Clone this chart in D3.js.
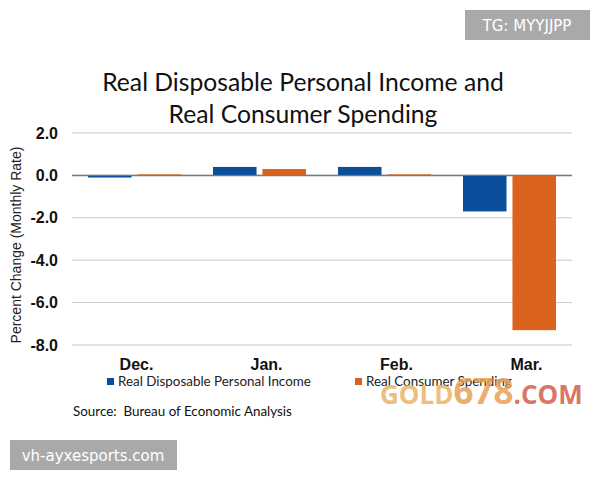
<html>
<head>
<meta charset="utf-8">
<title>Real Disposable Personal Income and Real Consumer Spending</title>
<script src="https://cdn.jsdelivr.net/npm/d3@7"></script>
<style>
  body { margin: 0; background: #fff; }
</style>
</head>
<body>
<script>
// data
var months = ["Dec.", "Jan.", "Feb.", "Mar."];
var seriesNames = ["Real Disposable Personal Income", "Real Consumer Spending"];
var incomeValues = [-0.1, 0.4, 0.4, -1.7];
var spendingValues = [0.05, 0.3, 0.05, -7.3];
var yTicks = [2, 0, -2, -4, -6, -8];
var colors = ["#0b4f9c", "#d9631c"];

var width = 600, height = 480;
var svg = d3.select("body").append("svg")
    .attr("width", width)
    .attr("height", height);

var plotLeft = 72, plotRight = 572, plotTop = 133, plotBottom = 345;

var x = d3.scaleBand().domain(months).range([plotLeft, plotRight]);
var x1 = d3.scaleBand().domain(seriesNames).range([16, 109]).paddingInner(0.12);
var y = d3.scaleLinear().domain([-8, 2]).range([plotBottom, plotTop]);

// title
svg.append("text")
    .attr("x", 303).attr("y", 91)
    .attr("text-anchor", "middle")
    .style("font-family", "Lato, 'Open Sans', sans-serif")
    .style("font-size", "24.7px")
    .attr("fill", "#111")
    .text("Real Disposable Personal Income and");
svg.append("text")
    .attr("x", 303).attr("y", 123)
    .attr("text-anchor", "middle")
    .style("font-family", "Lato, 'Open Sans', sans-serif")
    .style("font-size", "24.7px")
    .attr("fill", "#111")
    .text("Real Consumer Spending");

// grid
svg.append("g").selectAll("line")
    .data(yTicks)
    .enter().append("line")
    .attr("x1", plotLeft).attr("x2", plotRight)
    .attr("y1", d => y(d)).attr("y2", d => y(d))
    .attr("stroke", d => d === 0 ? "#7a7a7a" : "#c8c8c8")
    .attr("stroke-width", d => d === 0 ? 1.5 : 1);

// y tick labels
svg.append("g").selectAll("text")
    .data(yTicks)
    .enter().append("text")
    .attr("x", 58).attr("y", d => y(d) + 5.5)
    .attr("text-anchor", "end")
    .style("font-family", "'Liberation Sans', Arial, sans-serif")
    .style("font-size", "16px")
    .style("font-weight", "bold")
    .attr("fill", "#111")
    .text(d => d.toFixed(1));

// y title
svg.append("text")
    .attr("transform", "translate(21,245) rotate(-90)")
    .attr("text-anchor", "middle")
    .style("font-family", "'Liberation Sans', Arial, sans-serif")
    .style("font-size", "14px")
    .attr("fill", "#222")
    .text("Percent Change (Monthly Rate)");

// bars
var rows = months.map((m, i) => ({ month: m, vals: [incomeValues[i], spendingValues[i]] }));
var groups = svg.append("g").selectAll("g")
    .data(rows)
    .enter().append("g")
    .attr("transform", d => "translate(" + x(d.month) + ",0)");
groups.selectAll("rect")
    .data(d => d.vals.map((v, j) => ({ name: seriesNames[j], v: v, j: j })))
    .enter().append("rect")
    .attr("x", d => x1(d.name))
    .attr("width", x1.bandwidth())
    .attr("y", d => y(Math.max(0, d.v)))
    .attr("height", d => Math.abs(y(d.v) - y(0)))
    .attr("fill", d => colors[d.j]);

// redraw zero line over bars
svg.append("line")
    .attr("x1", plotLeft).attr("x2", plotRight)
    .attr("y1", y(0)).attr("y2", y(0))
    .attr("stroke", "#7a7a7a").attr("stroke-width", 1);

// x labels
svg.append("g").selectAll("text")
    .data(months)
    .enter().append("text")
    .attr("x", (d, i) => x(d) + x.bandwidth() / 2 + i * 5 + 2)
    .attr("y", 370)
    .attr("text-anchor", "middle")
    .style("font-family", "'Liberation Sans', Arial, sans-serif")
    .style("font-size", "16px")
    .style("font-weight", "bold")
    .attr("fill", "#111")
    .text(d => d);

// legend
var legendX = [107, 355];
var legend = svg.append("g").selectAll("g")
    .data(seriesNames)
    .enter().append("g")
    .attr("transform", (d, i) => "translate(" + legendX[i] + ",377)");
legend.append("rect")
    .attr("width", 7).attr("height", 7)
    .attr("y", 1)
    .attr("fill", (d, i) => colors[i]);
legend.append("text")
    .attr("x", 11).attr("y", 9)
    .style("font-family", "Lato, 'Open Sans', sans-serif")
    .style("font-size", "13.4px")
    .attr("fill", "#222")
    .text(d => d);

// source
svg.append("text")
    .attr("x", 73).attr("y", 416)
    .style("font-family", "Lato, 'Open Sans', sans-serif")
    .style("font-size", "13.4px")
    .style("white-space", "pre")
    .attr("fill", "#111")
    .text("Source:  Bureau of Economic Analysis");

// watermark
var wm = svg.append("text")
    .attr("x", 380).attr("y", 404)
    .style("font-family", "'Open Sans', 'DejaVu Sans', sans-serif")
    .style("font-weight", "bold")
    .attr("opacity", 0.85);
wm.append("tspan").attr("fill", "#e9b466").style("font-size", "26px").text("GOLD");
wm.append("tspan").attr("fill", "#e9a055").style("font-size", "35px").text("678");
wm.append("tspan").attr("fill", "#d2604c").style("font-size", "26px").text(".COM");

// badges
svg.append("rect").attr("x", 465).attr("y", 10).attr("width", 125).attr("height", 30).attr("fill", "#a9a9a9");
svg.append("text")
    .attr("x", 527).attr("y", 31)
    .attr("text-anchor", "middle")
    .style("font-family", "'DejaVu Sans', sans-serif")
    .style("font-size", "15px")
    .attr("fill", "#fff")
    .text("TG: MYYJJPP");

svg.append("rect").attr("x", 10).attr("y", 440).attr("width", 167).attr("height", 30).attr("fill", "#a9a9a9");
svg.append("text")
    .attr("x", 93).attr("y", 461)
    .attr("text-anchor", "middle")
    .style("font-family", "'DejaVu Sans', sans-serif")
    .style("font-size", "15px")
    .attr("fill", "#fff")
    .text("vh-ayxesports.com");
</script>
</body>
</html>
